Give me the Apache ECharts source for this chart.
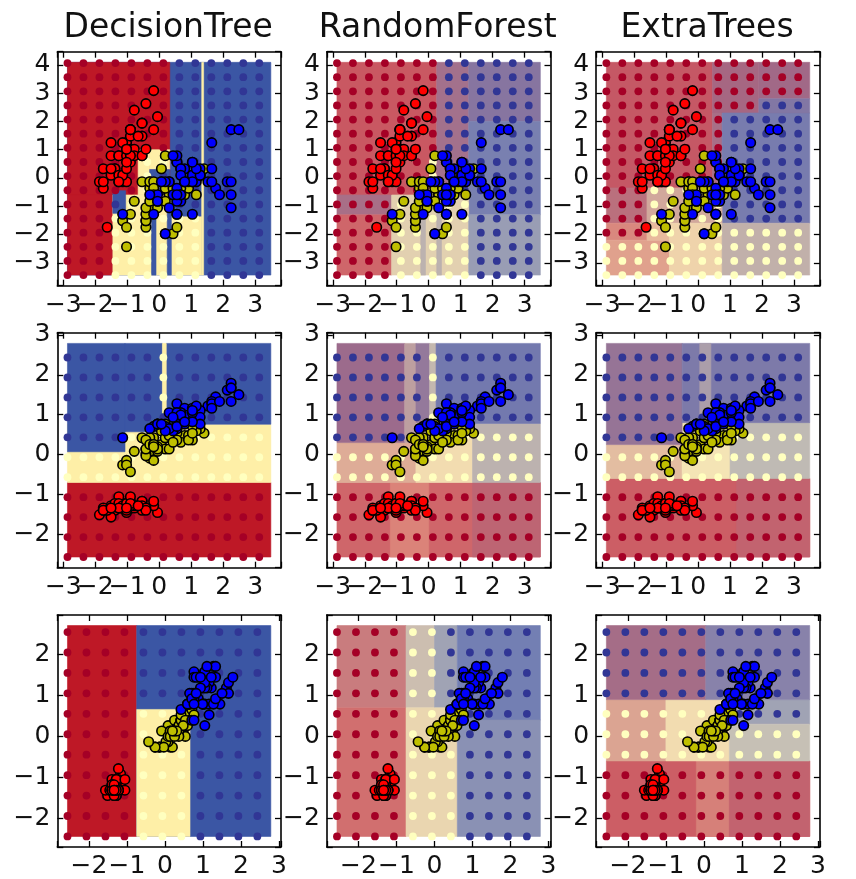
<!DOCTYPE html>
<html><head><meta charset="utf-8">
<script src="https://cdn.jsdelivr.net/npm/echarts@6/dist/echarts.min.js"></script>
<style>html,body{margin:0;padding:0;background:#fff}#c{width:856px;height:879px}</style>
</head><body><div id="c"></div><script>
// ---- iris measurements (sepal length, sepal width, petal length, petal width) ----
const setosa = [[5.1,3.5,1.4,0.2],[4.9,3.0,1.4,0.2],[4.7,3.2,1.3,0.2],[4.6,3.1,1.5,0.2],[5.0,3.6,1.4,0.2],[5.4,3.9,1.7,0.4],[4.6,3.4,1.4,0.3],[5.0,3.4,1.5,0.2],[4.4,2.9,1.4,0.2],[4.9,3.1,1.5,0.1],
[5.4,3.7,1.5,0.2],[4.8,3.4,1.6,0.2],[4.8,3.0,1.4,0.1],[4.3,3.0,1.1,0.1],[5.8,4.0,1.2,0.2],[5.7,4.4,1.5,0.4],[5.4,3.9,1.3,0.4],[5.1,3.5,1.4,0.3],[5.7,3.8,1.7,0.3],[5.1,3.8,1.5,0.3],
[5.4,3.4,1.7,0.2],[5.1,3.7,1.5,0.4],[4.6,3.6,1.0,0.2],[5.1,3.3,1.7,0.5],[4.8,3.4,1.9,0.2],[5.0,3.0,1.6,0.2],[5.0,3.4,1.6,0.4],[5.2,3.5,1.5,0.2],[5.2,3.4,1.4,0.2],[4.7,3.2,1.6,0.2],
[4.8,3.1,1.6,0.2],[5.4,3.4,1.5,0.4],[5.2,4.1,1.5,0.1],[5.5,4.2,1.4,0.2],[4.9,3.1,1.5,0.2],[5.0,3.2,1.2,0.2],[5.5,3.5,1.3,0.2],[4.9,3.6,1.4,0.1],[4.4,3.0,1.3,0.2],[5.1,3.4,1.5,0.2],
[5.0,3.5,1.3,0.3],[4.5,2.3,1.3,0.3],[4.4,3.2,1.3,0.2],[5.0,3.5,1.6,0.6],[5.1,3.8,1.9,0.4],[4.8,3.0,1.4,0.3],[5.1,3.8,1.6,0.2],[4.6,3.2,1.4,0.2],[5.3,3.7,1.5,0.2],[5.0,3.3,1.4,0.2]];
const versicolor = [[7.0,3.2,4.7,1.4],[6.4,3.2,4.5,1.5],[6.9,3.1,4.9,1.5],[5.5,2.3,4.0,1.3],[6.5,2.8,4.6,1.5],[5.7,2.8,4.5,1.3],[6.3,3.3,4.7,1.6],[4.9,2.4,3.3,1.0],[6.6,2.9,4.6,1.3],[5.2,2.7,3.9,1.4],
[5.0,2.0,3.5,1.0],[5.9,3.0,4.2,1.5],[6.0,2.2,4.0,1.0],[6.1,2.9,4.7,1.4],[5.6,2.9,3.6,1.3],[6.7,3.1,4.4,1.4],[5.6,3.0,4.5,1.5],[5.8,2.7,4.1,1.0],[6.2,2.2,4.5,1.5],[5.6,2.5,3.9,1.1],
[5.9,3.2,4.8,1.8],[6.1,2.8,4.0,1.3],[6.3,2.5,4.9,1.5],[6.1,2.8,4.7,1.2],[6.4,2.9,4.3,1.3],[6.6,3.0,4.4,1.4],[6.8,2.8,4.8,1.4],[6.7,3.0,5.0,1.7],[6.0,2.9,4.5,1.5],[5.7,2.6,3.5,1.0],
[5.5,2.4,3.8,1.1],[5.5,2.4,3.7,1.0],[5.8,2.7,3.9,1.2],[6.0,2.7,5.1,1.6],[5.4,3.0,4.5,1.5],[6.0,3.4,4.5,1.6],[6.7,3.1,4.7,1.5],[6.3,2.3,4.4,1.3],[5.6,3.0,4.1,1.3],[5.5,2.5,4.0,1.3],
[5.5,2.6,4.4,1.2],[6.1,3.0,4.6,1.4],[5.8,2.6,4.0,1.2],[5.0,2.3,3.3,1.0],[5.6,2.7,4.2,1.3],[5.7,3.0,4.2,1.2],[5.7,2.9,4.2,1.3],[6.2,2.9,4.3,1.3],[5.1,2.5,3.0,1.1],[5.7,2.8,4.1,1.3]];
const virginica = [[6.3,3.3,6.0,2.5],[5.8,2.7,5.1,1.9],[7.1,3.0,5.9,2.1],[6.3,2.9,5.6,1.8],[6.5,3.0,5.8,2.2],[7.6,3.0,6.6,2.1],[4.9,2.5,4.5,1.7],[7.3,2.9,6.3,1.8],[6.7,2.5,5.8,1.8],[7.2,3.6,6.1,2.5],
[6.5,3.2,5.1,2.0],[6.4,2.7,5.3,1.9],[6.8,3.0,5.5,2.1],[5.7,2.5,5.0,2.0],[5.8,2.8,5.1,2.4],[6.4,3.2,5.3,2.3],[6.5,3.0,5.5,1.8],[7.7,3.8,6.7,2.2],[7.7,2.6,6.9,2.3],[6.0,2.2,5.0,1.5],
[6.9,3.2,5.7,2.3],[5.6,2.8,4.9,2.0],[7.7,2.8,6.7,2.0],[6.3,2.7,4.9,1.8],[6.7,3.3,5.7,2.1],[7.2,3.2,6.0,1.8],[6.2,2.8,4.8,1.8],[6.1,3.0,4.9,1.8],[6.4,2.8,5.6,2.1],[7.2,3.0,5.8,1.6],
[7.4,2.8,6.1,1.9],[7.9,3.8,6.4,2.0],[6.4,2.8,5.6,2.2],[6.3,2.8,5.1,1.5],[6.1,2.6,5.6,1.4],[7.7,3.0,6.1,2.3],[6.3,3.4,5.6,2.4],[6.4,3.1,5.5,1.8],[6.0,3.0,4.8,1.8],[6.9,3.1,5.4,2.1],
[6.7,3.1,5.6,2.4],[6.9,3.1,5.1,2.3],[5.8,2.7,5.1,1.9],[6.8,3.2,5.9,2.3],[6.7,3.3,5.7,2.5],[6.7,3.0,5.2,2.3],[6.3,2.5,5.0,1.9],[6.5,3.0,5.2,2.0],[6.2,3.4,5.4,2.3],[5.9,3.0,5.1,1.8]];

// ---- layout of the panels ----
const titles = ['DecisionTree', 'RandomForest', 'ExtraTrees'];
const featurePairs = [[0, 1], [0, 2], [2, 3]];
const xLimits = [[-3.188, 3.810], [-3.188, 3.810], [-2.836, 3.054]];
const yLimits = [[-3.810, 4.467], [-2.836, 3.054], [-2.705, 2.970]];
const surfaceX = [[-2.870, 3.492], [-2.870, 3.492], [-2.568, 2.786]];
const surfaceY = [[-3.434, 4.091], [-2.568, 2.786], [-2.447, 2.712]];
const coarseStep = 0.5;

// ---- decision surfaces: [x0, x1, y0, y1, share red, share yellow, share blue] ----
const dtRegions1 = [
 [-2.870,3.492,-3.434,4.091,0,0,1],[-2.870,0.33,-0.6,4.091,1,0,0],[-2.870,-1.45,-3.434,-0.6,1,0,0],
 [-1.45,1.33,-3.434,-0.6,0,1,0],[-0.66,-0.3,-0.6,1.0,0,1,0],[-0.3,0.33,0.3,1.0,0,1,0],[-0.3,0.33,-0.6,0.3,0,0,1],
 [-1.45,-1.05,-1.25,-0.45,0,0,1],[-0.24,-0.10,-3.434,-0.6,0,0,1],[0.25,0.38,-3.434,-1.2,0,0,1],
 [0.38,1.33,-1.35,-0.6,0,0,1],[1.33,1.39,-3.434,4.091,0,1,0]];
const rfRegions1 = [
 [-2.870,0.25,-0.6,4.091,0.88,0.06,0.06],[0.05,0.25,-0.6,0.75,0.4,0.5,0.1],[0.25,1.25,-0.6,4.091,0.45,0.1,0.45],
 [1.25,3.492,2.0,4.091,0.25,0.05,0.7],[1.25,3.492,-1.3,2.0,0.08,0.07,0.85],[-2.870,-1.16,-1.3,-0.6,0.5,0.1,0.4],
 [-2.870,-1.16,-3.434,-1.3,0.8,0.15,0.05],[-1.16,1.25,-3.434,-0.6,0.1,0.75,0.15],[-0.25,-0.1,-3.434,-0.6,0.1,0.5,0.4],
 [0.25,0.4,-3.434,-1.2,0.1,0.5,0.4],[1.25,3.492,-3.434,-1.3,0.05,0.3,0.65]];
const etRegions1 = [
 [-2.870,0.45,-0.35,4.091,0.85,0.05,0.1],[0.45,1.9,2.3,4.091,0.55,0.05,0.4],[1.9,3.492,2.8,4.091,0.5,0.05,0.45],
 [0.45,0.75,-0.35,2.3,0.5,0.1,0.4],[0.75,3.492,-1.6,2.3,0.1,0.05,0.85],[1.9,3.492,2.3,2.8,0.2,0.05,0.75],
 [-2.870,-1.6,-1.6,-0.35,0.6,0.15,0.25],[-1.6,0.75,-1.6,-0.35,0.3,0.5,0.2],[-2.870,-1.6,-2.2,-1.6,0.6,0.35,0.05],
 [-2.870,-0.9,-3.434,-2.2,0.45,0.5,0.05],[-1.6,-0.9,-2.2,-1.6,0.3,0.65,0.05],[-0.9,0.75,-3.434,-1.6,0.15,0.8,0.05],
 [0.75,3.492,-3.434,-1.6,0.15,0.5,0.35]];
const dtRegions2 = [
 [-2.870,3.492,-2.568,-0.70,1,0,0],[-2.870,3.492,-0.70,0.76,0,1,0],[-2.870,-1.07,0.07,2.786,0,0,1],
 [-1.07,0.10,0.57,2.786,0,0,1],[0.22,3.492,0.76,2.786,0,0,1],[0.10,0.22,0.57,1.04,0,0,1],[0.10,0.22,1.04,2.786,0,1,0]];
const rfRegions2 = [
 [-2.870,3.492,-2.568,-0.7,0.8,0.15,0.05],[-1.2,0.0,-2.568,-0.7,0.65,0.33,0.02],[1.37,3.492,-2.568,-0.7,0.7,0.1,0.2],
 [-2.870,-0.4,-0.7,0.3,0.35,0.55,0.1],[-0.4,1.37,-0.7,0.8,0.1,0.85,0.05],[1.37,3.492,-0.7,0.78,0.1,0.5,0.4],
 [-2.870,-0.75,0.3,2.786,0.45,0.05,0.5],[-0.75,-0.4,0.3,2.786,0.25,0.4,0.35],[-0.4,0.03,0.8,2.786,0.3,0.1,0.6],
 [0.03,0.23,0.6,2.786,0.1,0.55,0.35],[0.23,3.492,0.78,2.786,0.1,0.02,0.88]];
const etRegions2 = [
 [-2.870,3.492,-2.568,-0.6,0.85,0.1,0.05],[1.2,3.492,-2.568,-0.6,0.75,0.1,0.15],[-2.870,-0.5,-0.6,0.25,0.25,0.65,0.1],
 [-0.5,1.0,-0.6,0.8,0.05,0.9,0.05],[1.0,3.492,-0.6,0.8,0.05,0.55,0.4],[-2.870,-0.5,0.25,2.786,0.35,0.08,0.57],
 [-0.5,3.492,0.8,2.786,0.15,0.05,0.8],[0.05,0.4,0.8,2.786,0.15,0.35,0.5]];
const dtRegions3 = [
 [-2.568,-0.745,-2.447,2.712,1,0,0],[-0.745,2.786,-2.447,2.712,0,0,1],[-0.745,0.658,-2.447,0.66,0,1,0]];
const rfRegions3 = [
 [-2.568,-0.75,0.7,2.712,0.6,0.25,0.15],[-2.568,-0.75,-2.447,0.7,0.75,0.2,0.05],[-0.75,0.0,0.7,2.712,0.1,0.6,0.3],
 [0.0,0.6,0.7,2.712,0.05,0.35,0.6],[-0.75,0.6,-2.447,0.7,0.1,0.8,0.1],[0.6,2.786,0.4,2.712,0.05,0.05,0.9],
 [0.6,2.786,-2.447,0.4,0.05,0.2,0.75]];
const etRegions3 = [
 [-2.568,2.786,-2.447,-0.6,0.85,0.1,0.05],[-0.2,0.67,-2.447,-0.6,0.65,0.3,0.05],[0.67,2.786,-2.447,-0.6,0.75,0.1,0.15],
 [-2.568,-1.0,-0.6,0.9,0.4,0.5,0.1],[-1.0,0.67,-0.6,0.9,0.1,0.85,0.05],[0.67,2.786,0.3,0.9,0.05,0.35,0.6],
 [0.67,2.786,-0.6,0.3,0.05,0.6,0.35],[-2.568,0.05,0.9,2.712,0.5,0.08,0.42],[0.05,2.786,0.9,2.712,0.15,0.12,0.73]];

// ---- predicted class on the coarse grid, top row first ----
const dtDots1 = ['RRRRRRRBBBBBB','RRRRRRRBBBBBB','RRRRRRRBBBBBB','RRRRRRRBBBBBB','RRRRRRRBBBBBB','RRRRRRRBBBBBB','RRRRRRRBBBBBB',
 'RRRRRYYBBBBBB','RRRRRYBBBBBBB','RRRRRYBBBBBBB','RRRBYYYBBBBBB','RRRYYYYYYBBBB','RRRYYYYYYBBBB','RRRYYYYYYBBBB','RRRYYYYYYBBBB','RRRYYYYYYBBBB'];
const rfDots1 = ['RRRRRRRBBBBBB','RRRRRRRBBBBBB','RRRRRRRBBBBBB','RRRRRRRBBBBBB','RRRRRRRBBBBBB','RRRRRRRBBBBBB','RRRRRRRBBBBBB',
 'RRRRRRYBBBBBB','RRRRRRYBBBBBB','RRRRRRYBBBBBB','RRRRYYYYYBBBB','RRRRYYYYYBBBB','RRRRYYYYYBBBB','RRRRYYYYYBBBB','RRRRYYYYYBBBB','RRRRYYYYYBBBB'];
const etDots1 = ['RRRRRRRRRRRRR','RRRRRRRRRRRRR','RRRRRRRRRRRRR','RRRRRRRRRRBBB','RRRRRRRRBBBBB','RRRRRRRRBBBBB','RRRRRRRRBBBBB',
 'RRRRRRRRBBBBB','RRRRRRRRBBBBB','RRRYYYYYBBBBB','RRRYYYYYBBBBB','RRRYYYYYBBBBB','RRRYYYYYYYYYY','YYYYYYYYYYYYY','YYYYYYYYYYYYY','YYYYYYYYYYYYY'];
const dtDots2 = ['BBBBBBYBBBBBB','BBBBBBYBBBBBB','BBBBBBYBBBBBB','BBBBBBBBBBBBB','BBBBYYYYYYYYY','YYYYYYYYYYYYY','YYYYYYYYYYYYY',
 'RRRRRRRRRRRRR','RRRRRRRRRRRRR','RRRRRRRRRRRRR','RRRRRRRRRRRRR'];
const rfDots2 = ['BBBBBBYBBBBBB','BBBBBBYBBBBBB','BBBBBBYBBBBBB','BBBBBBYBBBBBB','BBBBBYYYYYYYY','YYYYYYYYYYYYY','YYYYYYYYYYYYY',
 'RRRRRRRRRRRRR','RRRRRRRRRRRRR','RRRRRRRRRRRRR','RRRRRRRRRRRRR'];
const etDots2 = ['BBBBBBBBBBBBB','BBBBBBBBBBBBB','BBBBBBBBBBBBB','BBBBBBBBBBBBB','BBBBBYYYYYYYY','YYYYYYYYYYYYY','YYYYYYYYYYYYY',
 'RRRRRRRRRRRRR','RRRRRRRRRRRRR','RRRRRRRRRRRRR','RRRRRRRRRRRRR'];
const dtDots3 = ['RRRRBBBBBBB','RRRRBBBBBBB','RRRRBBBBBBB','RRRRBBBBBBB','RRRRYYYBBBB','RRRRYYYBBBB','RRRRYYYBBBB',
 'RRRRYYYBBBB','RRRRYYYBBBB','RRRRYYYBBBB','RRRRYYYBBBB'];
const rfDots3 = ['RRRRYYBBBBB','RRRRYYBBBBB','RRRRYYBBBBB','RRRRYYBBBBB','RRRRYYYBBBB','RRRRYYYBBBB','RRRRYYYBBBB',
 'RRRRYYYBBBB','RRRRYYYBBBB','RRRRYYYBBBB','RRRRYYYBBBB'];
const etDots3 = ['BBBBBBBBBBB','BBBBBBBBBBB','BBBBBBBBBBB','BBBBBBBBBBB','YYYYYYYBBBB','YYYYYYYYYYY','YYYYYYYYYYY',
 'RRRRRRRRRRR','RRRRRRRRRRR','RRRRRRRRRRR','RRRRRRRRRRR'];

const regionTable = [[dtRegions1, rfRegions1, etRegions1], [dtRegions2, rfRegions2, etRegions2], [dtRegions3, rfRegions3, etRegions3]];
const dotTable = [[dtDots1, rfDots1, etDots1], [dtDots2, rfDots2, etDots2], [dtDots3, rfDots3, etDots3]];

// ---- styles ----
const regionRGB = [[190, 24, 38], [254, 239, 167], [59, 86, 164]];
const washByModel = [0, 0.22, 0.22];
const dotColor = { R: '#a50026', Y: '#ffffbf', B: '#313695' };
const pointColor = ['#ff0000', '#bfbf00', '#0000ff'];
const gridLeft = [57.3, 326.8, 596.2], gridTop = [51.7, 332.7, 615], gridW = 223.7, gridH = [234, 235, 233.3];
const FONT = 'DejaVu Sans';

// ---- standardize features ----
const all = setosa.concat(versicolor, virginica);
const mean = [0, 1, 2, 3].map(j => all.reduce((s, r) => s + r[j], 0) / all.length);
const sd = [0, 1, 2, 3].map(j => Math.sqrt(all.reduce((s, r) => s + (r[j] - mean[j]) ** 2, 0) / all.length));
const stdz = rows => rows.map(r => r.map((v, j) => (v - mean[j]) / sd[j]));
const classes = [stdz(setosa), stdz(versicolor), stdz(virginica)];

function mixColor(p, wash) {
  const c = [0, 1, 2].map(k => p[0] * regionRGB[0][k] + p[1] * regionRGB[1][k] + p[2] * regionRGB[2][k]);
  const f = c.map(v => Math.round(wash * 255 + (1 - wash) * v));
  return 'rgb(' + f.join(',') + ')';
}
const fmt = v => {
  const r = Math.round(v);
  if (Math.abs(v - r) > 1e-6) return '';
  return String(r).replace('-', '\u2212');
};

const grids = [], xAxes = [], yAxes = [], series = [], graphics = [];
function axisBase(showLabel, lim) {
  return {
    type: 'value', min: lim[0], max: lim[1], minInterval: 1, maxInterval: 1, splitNumber: 7,
    axisLine: { show: true, onZero: false, lineStyle: { color: '#000', width: 1.6 } },
    axisTick: { show: true, inside: true, length: 6, lineStyle: { color: '#000', width: 1.3 } },
    axisLabel: { show: showLabel, formatter: fmt, color: '#111', fontFamily: FONT, fontSize: 25, margin: 7 },
    splitLine: { show: false }
  };
}

for (let r = 0; r < 3; r++) {
  for (let c = 0; c < 3; c++) {
    const gi = r * 3 + c;
    grids.push({ left: gridLeft[c], top: gridTop[r], width: gridW, height: gridH[r], containLabel: false });
    xAxes.push(Object.assign(axisBase(true, xLimits[r]), { gridIndex: gi, position: 'bottom' }));
    xAxes.push(Object.assign(axisBase(false, xLimits[r]), { gridIndex: gi, position: 'top' }));
    yAxes.push(Object.assign(axisBase(true, yLimits[r]), { gridIndex: gi, position: 'left' }));
    yAxes.push(Object.assign(axisBase(false, yLimits[r]), { gridIndex: gi, position: 'right' }));
    const xi = gi * 2, yi = gi * 2;
    const wash = washByModel[c];
    series.push({
      type: 'custom', xAxisIndex: xi, yAxisIndex: yi, z: 1, silent: true,
      encode: { x: [0, 1], y: [2, 3] },
      data: regionTable[r][c],
      renderItem: (params, api) => {
        const a = api.coord([api.value(0), api.value(3)]);
        const b = api.coord([api.value(1), api.value(2)]);
        const col = mixColor([api.value(4), api.value(5), api.value(6)], wash);
        return { type: 'rect', shape: { x: a[0], y: a[1], width: b[0] - a[0], height: b[1] - a[1] },
                 style: { fill: col, stroke: col, lineWidth: 0.6 } };
      }
    });
    // coarse grid of predictions
    const rows = dotTable[r][c];
    const x0 = surfaceX[r][0], y0 = surfaceY[r][0];
    const dots = [];
    rows.forEach((s, i) => {
      const yv = y0 + (rows.length - 1 - i) * coarseStep;
      for (let j = 0; j < s.length; j++) dots.push([x0 + j * coarseStep, yv, s[j]]);
    });
    series.push({
      type: 'scatter', xAxisIndex: xi, yAxisIndex: yi, z: 2, silent: true, symbol: 'circle', symbolSize: 7.8,
      data: dots, itemStyle: { color: p => dotColor[p.data[2]], opacity: 1 }
    });
    // training points
    const [fx, fy] = featurePairs[r];
    classes.forEach((pts, k) => {
      series.push({
        type: 'scatter', xAxisIndex: xi, yAxisIndex: yi, z: 3, silent: true, symbol: 'circle', symbolSize: 9.5,
        data: pts.map(p => [p[fx], p[fy]]),
        itemStyle: { color: pointColor[k], borderColor: '#000', borderWidth: 1.6, opacity: 1 }
      });
    });
  }
}
titles.forEach((t, c) => {
  graphics.push({ type: 'text', x: gridLeft[c] + gridW / 2 - 1, y: 28,
    style: { text: t, font: '33px "' + FONT + '"', fill: '#111', textAlign: 'center', textVerticalAlign: 'middle' } });
});

const chart = echarts.init(document.getElementById('c'), null, { renderer: 'canvas' });
chart.setOption({
  animation: false, backgroundColor: '#fff',
  grid: grids, xAxis: xAxes, yAxis: yAxes, series: series, graphic: graphics
});
</script></body></html>
